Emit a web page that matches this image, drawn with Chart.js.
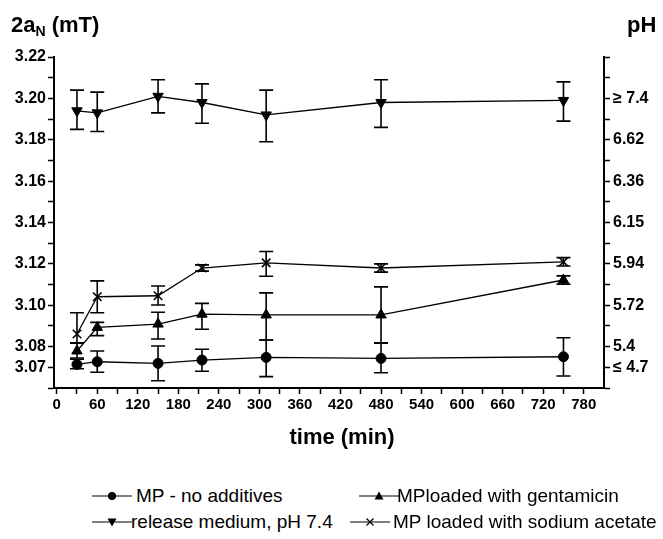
<!DOCTYPE html>
<html><head><meta charset="utf-8">
<script src="https://cdn.jsdelivr.net/npm/chart.js@4/dist/chart.umd.min.js"></script>
<style>
html,body{margin:0;padding:0;background:#fff;}
#wrap{position:relative;width:663px;height:539px;font-family:"Liberation Sans",Arial,sans-serif;color:#000;overflow:hidden;}
#c{position:absolute;left:0;top:0;}
.ttl{position:absolute;font-weight:bold;font-size:22px;line-height:26px;white-space:nowrap;}
.ttl sub{font-size:14px;vertical-align:-4px;line-height:0;}
.leg{position:absolute;font-size:19px;line-height:22px;white-space:nowrap;}
.leg svg{position:absolute;}
</style>
</head><body>
<div id="wrap">
<canvas id="c" width="663" height="460"></canvas>
<div class="ttl" style="left:11px;top:12px;">2a<sub>N</sub> (mT)</div>
<div class="ttl" style="left:627px;top:12px;">pH</div>
<div class="ttl" style="left:262px;top:424px;width:160px;text-align:center;">time (min)</div>
<div id="legend"></div>
</div>
<script>
// ---- data ----
const times = [30, 60, 150, 215, 310, 480, 750];

const mpNoAdditives     = [3.0714, 3.0727, 3.0719, 3.0735, 3.0748, 3.0743, 3.0751];
const mpNoAdditivesHigh = [3.0739, 3.0779, 3.0803, 3.0787, 3.0832, 3.0816, 3.0843];
const mpNoAdditivesLow  = [3.0693, 3.0676, 3.0635, 3.0681, 3.0655, 3.0674, 3.0658];

const mpGentamicin     = [3.0779, 3.0893, 3.0909, 3.0957, 3.0953, 3.0953, 3.1122];
const mpGentamicinHigh = [3.0819, 3.0917, 3.0966, 3.1009, 3.1060, 3.1089, 3.1142];
const mpGentamicinLow  = [3.0745, 3.0853, 3.0837, 3.0884, 3.0832, 3.0819, 3.1102];

const releaseMedium     = [3.194, 3.193, 3.201, 3.198, 3.192, 3.198, 3.199];
const releaseMediumHigh = [3.204, 3.203, 3.209, 3.207, 3.204, 3.209, 3.208];
const releaseMediumLow  = [3.185, 3.184, 3.193, 3.188, 3.179, 3.186, 3.189];

const mpAcetate     = [3.0861, 3.1041, 3.1046, 3.1180, 3.1205, 3.1180, 3.1210];
const mpAcetateHigh = [3.0964, 3.1118, 3.1093, 3.1195, 3.1260, 3.1200, 3.1230];
const mpAcetateLow  = [3.0816, 3.0964, 3.1001, 3.1165, 3.1140, 3.1160, 3.1190];

const seriesNames = ["MP - no additives", "MPloaded with gentamicin", "release medium, pH 7.4", "MP loaded with sodium acetate"];

const xTickValues = [0,30,60,90,120,150,180,210,240,270,300,330,360,390,420,450,480,510,540,570,600,630,660,690,720,750,780];
const xTickLabels = ["0","","60","","120","","180","","240","","300","","360","","420","","480","","540","","600","","660","","720","","780"];

const yTickValues = [3.06,3.07,3.08,3.09,3.10,3.11,3.12,3.13,3.14,3.15,3.16,3.17,3.18,3.19,3.20,3.21,3.22];
const yTickLabels = ["","3.07","3.08","","3.10","","3.12","","3.14","","3.16","","3.18","","3.20","","3.22"];
const phTickLabels = ["","\u2264 4.7","5.4","","5.72","","5.94","","6.15","","6.36","","6.62","","\u2265 7.4","",""];

// ---- chart ----
const pts = arr => arr.map((v,i)=>({x:times[i], y:v}));
function ds(label, vals, hi, lo, style, radius, rot){
  return {label, data: pts(vals), errHigh: hi, errLow: lo,
    borderColor:'#000', backgroundColor:'#000', borderWidth:1.3, tension:0,
    pointStyle: style, pointRadius: radius, pointHoverRadius: radius,
    pointRotation: rot||0, pointBorderWidth: style==='crossRot'?1.6:1,
    pointBackgroundColor:'#000', pointBorderColor:'#000'};
}

const errorBars = {
  id:'errorBars',
  afterDatasetsDraw(chart){
    const ctx = chart.ctx, ys = chart.scales.y;
    ctx.save();
    ctx.strokeStyle='#000'; ctx.lineWidth=1.6;
    chart.data.datasets.forEach((d,i)=>{
      const meta = chart.getDatasetMeta(i);
      meta.data.forEach((p,j)=>{
        const x = p.x, yt = ys.getPixelForValue(d.errHigh[j]), yb = ys.getPixelForValue(d.errLow[j]);
        ctx.beginPath();
        ctx.moveTo(x,yt); ctx.lineTo(x,yb);
        ctx.moveTo(x-7,yt); ctx.lineTo(x+7,yt);
        ctx.moveTo(x-7,yb); ctx.lineTo(x+7,yb);
        ctx.stroke();
      });
    });
    ctx.restore();
  }
};

const tickFont = {family:'"Liberation Sans", Arial, sans-serif', size:16, weight:'bold'};
const gridOpts = {display:true, drawOnChartArea:false, drawTicks:true, tickLength:6, tickColor:'#000', tickWidth:1.5};
const borderOpts = {display:true, color:'#000', width:2};

new Chart(document.getElementById('c'), {
  type:'line',
  data:{ datasets:[
    ds(seriesNames[0], mpNoAdditives, mpNoAdditivesHigh, mpNoAdditivesLow, 'circle', 5, 0),
    ds(seriesNames[1], mpGentamicin, mpGentamicinHigh, mpGentamicinLow, 'triangle', 6, 0),
    ds(seriesNames[2], releaseMedium, releaseMediumHigh, releaseMediumLow, 'triangle', 6, 180),
    ds(seriesNames[3], mpAcetate, mpAcetateHigh, mpAcetateLow, 'crossRot', 6, 0)
  ]},
  options:{
    responsive:false, animation:false, devicePixelRatio:1,
    layout:{padding:{top:57, left:0, right:0, bottom:0}},
    plugins:{legend:{display:false}, tooltip:{enabled:false}},
    scales:{
      x:{type:'linear', position:'bottom', min:-4, max:810,
        afterBuildTicks(s){ s.ticks = xTickValues.map(v=>({value:v})); },
        afterFit(s){ s.height = 72; },
        ticks:{autoSkip:false, maxRotation:0, padding:2, color:'#000',
          font:{...tickFont, size:15},
          callback:(v,i)=>xTickLabels[i]},
        grid:gridOpts, border:borderOpts},
      y:{type:'linear', position:'left', min:3.06, max:3.22,
        afterBuildTicks(s){ s.ticks = yTickValues.map(v=>({value:v})); },
        afterFit(s){ s.width = 54; },
        ticks:{autoSkip:false, padding:2, color:'#000', font:tickFont,
          callback:(v,i)=>yTickLabels[i]},
        grid:gridOpts, border:borderOpts},
      y2:{type:'linear', position:'right', min:3.06, max:3.22,
        afterBuildTicks(s){ s.ticks = yTickValues.map(v=>({value:v})); },
        afterFit(s){ s.width = 59; },
        ticks:{autoSkip:false, padding:3, color:'#000', font:tickFont,
          callback:(v,i)=>phTickLabels[i]},
        grid:gridOpts, border:borderOpts}
    }
  },
  plugins:[errorBars]
});

// ---- legend (HTML) ----
const legendLayout = [
  {name:seriesNames[0], sx:90,  tx:136, y:485, marker:'circle'},
  {name:seriesNames[1], sx:357, tx:397, y:485, marker:'up'},
  {name:seriesNames[2], sx:90,  tx:131, y:511, marker:'down'},
  {name:seriesNames[3], sx:348, tx:393, y:511, marker:'x'}
];
function markerSvg(m){
  const c = 22;
  let shape = '';
  if(m==='circle') shape = `<circle cx="${c}" cy="6" r="4" fill="#000"/>`;
  if(m==='up') shape = `<polygon points="${c-4.5},9.5 ${c+4.5},9.5 ${c},1.5" fill="#000"/>`;
  if(m==='down') shape = `<polygon points="${c-4.5},2.5 ${c+4.5},2.5 ${c},10.5" fill="#000"/>`;
  if(m==='x') shape = `<path d="M${c-3.5} 2.5 L${c+3.5} 9.5 M${c+3.5} 2.5 L${c-3.5} 9.5" stroke="#000" stroke-width="1.3"/>`;
  return `<svg width="44" height="12" viewBox="0 0 44 12"><line x1="2" y1="6" x2="42" y2="6" stroke="#000" stroke-width="1.2"/>${shape}</svg>`;
}
const lg = document.getElementById('legend');
legendLayout.forEach(it=>{
  const s = document.createElement('div');
  s.className='leg'; s.style.left=it.sx+'px'; s.style.top=(it.y+5)+'px'; s.style.width='44px'; s.style.height='12px';
  s.innerHTML = markerSvg(it.marker);
  lg.appendChild(s);
  const t = document.createElement('div');
  t.className='leg'; t.style.left=it.tx+'px'; t.style.top=it.y+'px';
  t.textContent = it.name;
  lg.appendChild(t);
});
</script>
</body></html>
